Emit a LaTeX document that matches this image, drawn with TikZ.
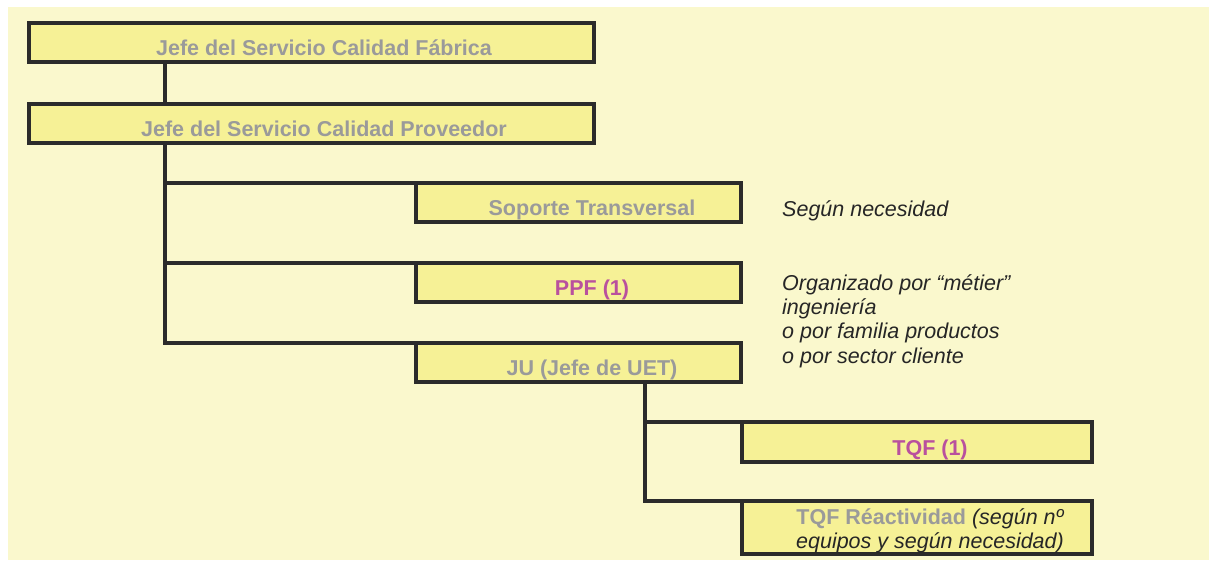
\documentclass[tikz,border=0pt]{standalone}
\usepackage{fontspec}
\setmainfont{Liberation Sans}
\definecolor{bgC}{HTML}{FAF8CD}
\definecolor{boxC}{HTML}{F6F196}
\definecolor{lineC}{HTML}{2B2B2B}
\definecolor{grayC}{HTML}{9A9A9A}
\definecolor{pinkC}{HTML}{B9509E}
\definecolor{noteC}{HTML}{262626}
\begin{document}
\begin{tikzpicture}[x=1pt,y=-1pt,
  box/.style={draw=lineC, fill=boxC, line width=4pt, outer sep=0pt,
    inner sep=0pt, anchor=north west, line join=miter},
  link/.style={draw=lineC, line width=4pt, line join=miter},
  lbl/.style={anchor=base, inner sep=0pt, text=grayC,
    font=\fontsize{21.5}{24}\selectfont\bfseries},
  key/.style={lbl, text=pinkC},
  note/.style={anchor=base west, inner sep=0pt, text=noteC,
    font=\fontsize{21.5}{24}\selectfont\itshape}]
  % page and background
  \useasboundingbox (0,0) rectangle (1209,560);
  \fill[bgC] (8,7) rectangle (1209,560);

  % boxes
  \node[box, minimum width=565pt, minimum height=39pt] (b1) at (29,23) {};
  \node[box, minimum width=565pt, minimum height=39pt] (b2) at (29,104) {};
  \node[box, minimum width=325pt, minimum height=39pt] (b3) at (416,183) {};
  \node[box, minimum width=325pt, minimum height=39pt] (b4) at (416,263) {};
  \node[box, minimum width=325pt, minimum height=39pt] (b5) at (416,343) {};
  \node[box, minimum width=350pt, minimum height=40pt] (b6) at (742,422) {};
  \node[box, minimum width=350pt, minimum height=53pt] (b7) at (742,501) {};

  % trunk lines of the tree
  \coordinate (t1) at (165,0);
  \coordinate (t2) at (645,0);
  \draw[link] (b1.south -| t1) -- (b2.north -| t1);
  \draw[link] (b2.south -| t1) |- (b3.north west);
  \draw[link] (b2.south -| t1) |- (b4.north west);
  \draw[link] (b2.south -| t1) |- (b5.north west);
  \draw[link] (b5.south -| t2) |- (b6.north west);
  \draw[link] (b5.south -| t2) |- (b7.north west);

  % box labels
  \node[lbl] (l1) at (324,55) {Jefe del Servicio Calidad Fábrica};
  \node[lbl] (l2) at (324,136) {Jefe del Servicio Calidad Proveedor};
  \node[lbl] (l3) at (592,215) {Soporte Transversal};
  \node[key] (l4) at (592,295) {PPF (1)};
  \node[lbl] (l5) at (592,375) {JU (Jefe de UET)};
  \node[key] (l6) at (930,455) {TQF (1)};
  \node[lbl] (l7a) at (930,524) {TQF Réactividad {\mdseries\itshape\color{noteC}(según nº}};
  \node[lbl, text=noteC, font=\fontsize{21.5}{24}\selectfont\itshape] (l7b) at (930,548) {equipos y según necesidad)};

  % side notes
  \node[note] (n1) at (782,216) {Según necesidad};
  \node[note] (n2) at (782,290) {Organizado por “métier”};
  \node[note] (n3) at (782,314) {ingeniería};
  \node[note] (n4) at (782,338) {o por familia productos};
  \node[note] (n5) at (782,363) {o por sector cliente};
\end{tikzpicture}
\end{document}
